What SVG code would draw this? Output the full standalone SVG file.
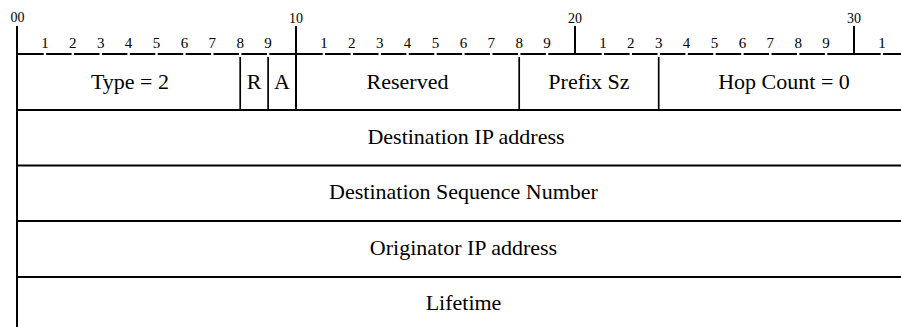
<svg xmlns="http://www.w3.org/2000/svg" width="901" height="327" viewBox="0 0 901 327">
<style>
.ln{stroke:#000;stroke-width:2;fill:none}
.dv{stroke:#000;stroke-width:1.7;fill:none}
.gap{fill:#fff}
.bit{font-family:'Liberation Serif','Times New Roman',serif;font-size:15px;fill:#000;text-anchor:middle}
.ten{font-family:'Liberation Serif','Times New Roman',serif;font-size:14px;fill:#000;text-anchor:middle}
.lbl{font-family:'Liberation Serif','Times New Roman',serif;font-size:22px;fill:#000;text-anchor:middle}
</style>
<rect width="901" height="327" fill="#fff"/>
<g id="ruler">
<line class="ln" x1="17" y1="26" x2="17" y2="327"/>
<line class="ln" x1="296" y1="26" x2="296" y2="54"/>
<line class="ln" x1="575" y1="26" x2="575" y2="54"/>
<line class="ln" x1="854" y1="26" x2="854" y2="54"/>
<line class="ln" x1="17" y1="54" x2="901" y2="54"/>
<g class="gap">
<rect x="43.7" y="52" width="2.4" height="5"/><rect x="71.6" y="52" width="2.4" height="5"/><rect x="99.5" y="52" width="2.4" height="5"/><rect x="127.4" y="52" width="2.4" height="5"/><rect x="155.3" y="52" width="2.4" height="5"/><rect x="183.2" y="52" width="2.4" height="5"/><rect x="211.1" y="52" width="2.4" height="5"/><rect x="239" y="52" width="2.4" height="5"/><rect x="266.9" y="52" width="2.4" height="5"/>
<rect x="322.7" y="52" width="2.4" height="5"/><rect x="350.6" y="52" width="2.4" height="5"/><rect x="378.5" y="52" width="2.4" height="5"/><rect x="406.4" y="52" width="2.4" height="5"/><rect x="434.3" y="52" width="2.4" height="5"/><rect x="462.2" y="52" width="2.4" height="5"/><rect x="490.1" y="52" width="2.4" height="5"/><rect x="518" y="52" width="2.4" height="5"/><rect x="545.9" y="52" width="2.4" height="5"/>
<rect x="601.7" y="52" width="2.4" height="5"/><rect x="629.6" y="52" width="2.4" height="5"/><rect x="657.5" y="52" width="2.4" height="5"/><rect x="685.4" y="52" width="2.4" height="5"/><rect x="713.3" y="52" width="2.4" height="5"/><rect x="741.2" y="52" width="2.4" height="5"/><rect x="769.1" y="52" width="2.4" height="5"/><rect x="797" y="52" width="2.4" height="5"/><rect x="824.9" y="52" width="2.4" height="5"/>
<rect x="880.7" y="52" width="2.4" height="5"/>
</g>
<text class="ten" x="17.5" y="22">00</text>
<text class="ten" x="296" y="23">10</text>
<text class="ten" x="575" y="23">20</text>
<text class="ten" x="854" y="23">30</text>
<g>
<text class="bit" x="44.9" y="47.5">1</text><text class="bit" x="72.8" y="47.5">2</text><text class="bit" x="100.7" y="47.5">3</text><text class="bit" x="128.6" y="47.5">4</text><text class="bit" x="156.5" y="47.5">5</text><text class="bit" x="184.4" y="47.5">6</text><text class="bit" x="212.3" y="47.5">7</text><text class="bit" x="240.2" y="47.5">8</text><text class="bit" x="268.1" y="47.5">9</text>
<text class="bit" x="323.9" y="47.5">1</text><text class="bit" x="351.8" y="47.5">2</text><text class="bit" x="379.7" y="47.5">3</text><text class="bit" x="407.6" y="47.5">4</text><text class="bit" x="435.5" y="47.5">5</text><text class="bit" x="463.4" y="47.5">6</text><text class="bit" x="491.3" y="47.5">7</text><text class="bit" x="519.2" y="47.5">8</text><text class="bit" x="547.1" y="47.5">9</text>
<text class="bit" x="602.9" y="47.5">1</text><text class="bit" x="630.8" y="47.5">2</text><text class="bit" x="658.7" y="47.5">3</text><text class="bit" x="686.6" y="47.5">4</text><text class="bit" x="714.5" y="47.5">5</text><text class="bit" x="742.4" y="47.5">6</text><text class="bit" x="770.3" y="47.5">7</text><text class="bit" x="798.2" y="47.5">8</text><text class="bit" x="826.1" y="47.5">9</text>
<text class="bit" x="881.9" y="47.5">1</text>
</g>
</g>
<g id="connectors">
<line class="ln" x1="17" y1="110" x2="901" y2="110"/>
<line class="ln" x1="17" y1="165.5" x2="901" y2="165.5"/>
<line class="ln" x1="17" y1="221" x2="901" y2="221"/>
<line class="ln" x1="17" y1="277" x2="901" y2="277"/>
<line class="dv" x1="240.2" y1="57" x2="240.2" y2="110"/>
<line class="dv" x1="268.1" y1="57" x2="268.1" y2="110"/>
<line class="ln" x1="296" y1="54" x2="296" y2="110"/>
<line class="dv" x1="519.2" y1="57" x2="519.2" y2="110"/>
<line class="dv" x1="658.7" y1="57" x2="658.7" y2="110"/>
</g>
<g id="type"><text class="lbl" x="130" y="88.5">Type = 2</text></g>
<g id="r"><text class="lbl" x="254" y="88.5">R</text></g>
<g id="a"><text class="lbl" x="282" y="88.5">A</text></g>
<g id="reserved"><text class="lbl" x="407.5" y="88.5">Reserved</text></g>
<g id="prefix"><text class="lbl" x="589" y="88.5">Prefix Sz</text></g>
<g id="hop"><text class="lbl" x="784" y="88.5">Hop Count = 0</text></g>
<g id="dest-ip"><text class="lbl" x="466" y="143.5">Destination IP address</text></g>
<g id="dest-seq"><text class="lbl" x="463.5" y="199">Destination Sequence Number</text></g>
<g id="orig-ip"><text class="lbl" x="463.5" y="254.5">Originator IP address</text></g>
<g id="lifetime"><text class="lbl" x="463.5" y="310">Lifetime</text></g>
</svg>
